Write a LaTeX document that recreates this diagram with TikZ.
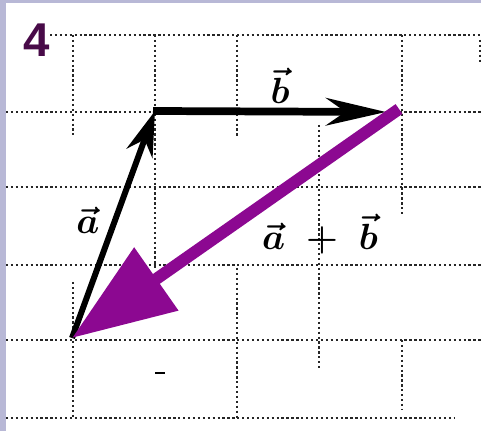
\documentclass[tikz,border=0pt]{standalone}
\usepackage{amsmath,amssymb}
\usepackage{fontspec}
\newfontfamily\numfont{Liberation Sans}
\usetikzlibrary{arrows.meta,positioning,calc}
\definecolor{Lavender}{RGB}{184,184,214}
\definecolor{Plum}{RGB}{140,8,145}
\definecolor{DarkPlum}{RGB}{72,10,72}
\tikzset{
  gridline/.style={draw=black!85,line width=1.1pt,dash pattern=on 1.3pt off 1.5pt},
  vecpath/.style={draw=black,line width=3.4pt,-{Stealth[length=0.9cm,width=0.55cm]}},
  bvecpath/.style={draw=black,line width=4.4pt,-{Stealth[length=1.2cm,width=0.55cm]}},
  sumpath/.style={draw=Plum,line width=6.8pt,-{Triangle[length=2.06cm,width=1.48cm]}},
  veclabel/.style={font=\fontsize{21}{24}\selectfont\boldmath,inner sep=1pt},
  numlabel/.style={font=\numfont\bfseries\fontsize{27}{30}\selectfont,text=DarkPlum,inner sep=0pt}
}
\begin{document}
\begin{tikzpicture}[x=0.02cm,y=-0.02cm]
\fill[Lavender] (0,0) rectangle (481,431);
\fill[white] (6,3) rectangle (481,431);
\useasboundingbox (0,0) rectangle (481,431);

% grid
\foreach \y/\xa/\xb in {35/50/481,112/6/481,187/6/481,265/6/481,340/6/481,418/6/455}
  \draw[gridline] (\xa,\y) -- (\xb,\y);
\foreach \x/\ya/\yb in {73/35/135,73/282/418,155/35/270,237/35/138,237/268/418,319/125/370,402/35/215,402/340/410,480/40/62}
  \draw[gridline] (\x,\ya) -- (\x,\yb);
\draw[black,line width=1.2pt] (155,373) -- (165,373);

\coordinate (O) at (72,338);
\coordinate (P) at (155,111);
\coordinate (Q) at (386,112);
\coordinate (S) at (399,109);

\draw[vecpath] (O) -- (P);
\draw[bvecpath] ($(P)+(-2,0)$) -- (Q);
\draw[sumpath] (S) -- (O);

\node[numlabel] (num) at (37,40) {4};
\node[veclabel] (alab) at (88,220) {$\vec{a}$};
\node[veclabel] (blab) at (280,86) {$\vec{b}$};
\node[veclabel] (sumlab) at (320,234) {$\vec{a}\;+\;\vec{b}$};
\end{tikzpicture}
\end{document}
